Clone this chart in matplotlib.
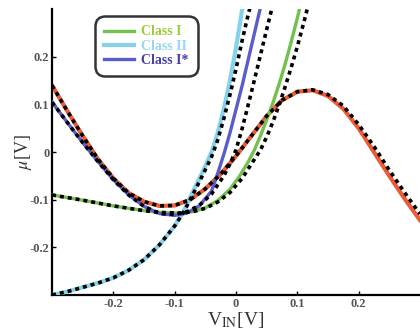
import numpy as np
import matplotlib.pyplot as plt

# curve data (V_IN [V], mu [V])
vin_red = [-0.300, -0.275, -0.250, -0.225, -0.200, -0.175, -0.150, -0.125, -0.100, -0.075, -0.050, -0.025,
           0.000, 0.025, 0.050, 0.075, 0.100, 0.125, 0.150, 0.175, 0.200, 0.225, 0.250, 0.275, 0.300]
mu_red = [0.140, 0.086, 0.034, -0.015, -0.055, -0.086, -0.104, -0.113, -0.112, -0.100, -0.077, -0.046,
          -0.008, 0.034, 0.076, 0.109, 0.127, 0.130, 0.118, 0.091, 0.050, 0.000, -0.050, -0.098, -0.143]
mu_red_fit = [0.140, 0.086, 0.034, -0.015, -0.055, -0.086, -0.104, -0.113, -0.112, -0.100, -0.077, -0.046,
              -0.008, 0.034, 0.076, 0.109, 0.127, 0.131, 0.121, 0.097, 0.058, 0.012, -0.038, -0.085, -0.130]

vin_blue = [-0.300, -0.275, -0.250, -0.225, -0.200, -0.175, -0.150, -0.125, -0.100, -0.080, -0.060,
            -0.040, -0.030, -0.020, -0.010, 0.000, 0.010, 0.020, 0.030, 0.040, 0.045]
mu_blue = [0.105, 0.062, 0.020, -0.020, -0.058, -0.090, -0.114, -0.129, -0.133, -0.128, -0.113,
           -0.082, -0.045, -0.005, 0.040, 0.090, 0.140, 0.195, 0.250, 0.305, 0.330]
vin_blue_fit = [-0.300, -0.275, -0.250, -0.225, -0.200, -0.175, -0.150, -0.125, -0.100, -0.080, -0.060,
                -0.040, -0.020, -0.010, 0.000, 0.010, 0.020, 0.030, 0.040, 0.050, 0.060, 0.065]
mu_blue_fit = [0.105, 0.062, 0.020, -0.020, -0.058, -0.090, -0.114, -0.129, -0.131, -0.125, -0.112,
               -0.088, -0.050, -0.025, 0.005, 0.050, 0.100, 0.152, 0.205, 0.258, 0.310, 0.335]

vin_cyan = [-0.300, -0.275, -0.250, -0.225, -0.200, -0.175, -0.150, -0.125, -0.100, -0.085, -0.070,
            -0.055, -0.040, -0.030, -0.020, -0.010, 0.000, 0.010, 0.015]
mu_cyan = [-0.300, -0.293, -0.284, -0.275, -0.264, -0.248, -0.226, -0.195, -0.155, -0.123, -0.082,
           -0.043, 0.000, 0.040, 0.090, 0.150, 0.220, 0.300, 0.340]
vin_cyan_fit = [-0.300, -0.275, -0.250, -0.225, -0.200, -0.175, -0.150, -0.125, -0.100, -0.085, -0.070,
                -0.055, -0.040, -0.030, -0.020, -0.010, 0.000, 0.010, 0.020, 0.028]
mu_cyan_fit = [-0.300, -0.293, -0.284, -0.275, -0.264, -0.248, -0.226, -0.195, -0.155, -0.125, -0.088,
               -0.050, -0.010, 0.025, 0.070, 0.120, 0.175, 0.235, 0.290, 0.330]

vin_green = [-0.300, -0.250, -0.200, -0.150, -0.120, -0.090, -0.070, -0.050, -0.030, -0.010, 0.005,
             0.020, 0.030, 0.040, 0.050, 0.060, 0.070, 0.080, 0.090, 0.100, 0.106]
mu_green = [-0.090, -0.101, -0.113, -0.123, -0.127, -0.128, -0.125, -0.117, -0.102, -0.078, -0.052,
            -0.020, 0.005, 0.035, 0.068, 0.103, 0.142, 0.185, 0.232, 0.282, 0.315]
vin_green_fit = [-0.300, -0.250, -0.200, -0.150, -0.120, -0.090, -0.070, -0.050, -0.030, -0.010, 0.010,
                 0.025, 0.040, 0.050, 0.060, 0.070, 0.080, 0.090, 0.100, 0.110, 0.120]
mu_green_fit = [-0.090, -0.101, -0.113, -0.123, -0.127, -0.128, -0.125, -0.118, -0.105, -0.085, -0.055,
                -0.025, 0.005, 0.032, 0.063, 0.098, 0.137, 0.178, 0.222, 0.270, 0.320]

labels = ['Class I', 'Class II', 'Class I*']
c_red, c_green, c_cyan, c_blue = '#ee5a33', '#74c04e', '#86d2ea', '#5b5ccb'
txt_cols = ['#9ccc3a', '#9ad8ee', '#4a3fa8']

plt.rcParams['font.family'] = ['Liberation Serif', 'DejaVu Serif']
plt.rcParams['mathtext.fontset'] = 'stix'

fig = plt.figure(figsize=(4.2, 3.34), dpi=100)
ax = fig.add_axes([0.124, 0.117, 0.876, 0.855])

lw = 2.4
dash = dict(color='k', lw=2.6, ls=(0, (1.1, 1.1)), zorder=5)
ax.plot(vin_red, mu_red, color=c_red, lw=lw + 0.6, zorder=2)
l1, = ax.plot(vin_green, mu_green, color=c_green, lw=lw, zorder=3)
l2, = ax.plot(vin_cyan, mu_cyan, color=c_cyan, lw=lw + 0.6, zorder=3)
l3, = ax.plot(vin_blue, mu_blue, color=c_blue, lw=lw, zorder=3)
ax.plot(vin_red, mu_red_fit, **dash)
ax.plot(vin_green_fit, mu_green_fit, **dash)
ax.plot(vin_cyan_fit, mu_cyan_fit, **dash)
ax.plot(vin_blue_fit, mu_blue_fit, **dash)

ax.set_xlim(-0.3, 0.3)
ax.set_ylim(-0.3, 0.3)
ax.set_xticks([-0.2, -0.1, 0, 0.1, 0.2])
ax.set_xticklabels(['-0.2', '-0.1', '0', '0.1', '0.2'])
ax.set_yticks([-0.2, -0.1, 0, 0.1, 0.2])
ax.set_yticklabels(['-0.2', '-0.1', '0', '0.1', '0.2'])
ax.tick_params(direction='in', length=3, width=1, labelsize=9, labelcolor='#555555', pad=2)
for lab in ax.get_xticklabels() + ax.get_yticklabels():
    lab.set_fontweight('bold')
for s in ['top', 'right']:
    ax.spines[s].set_visible(False)
for s in ['left', 'bottom']:
    ax.spines[s].set_linewidth(1.6)

ax.set_xlabel(r'V$_{\rm IN}$[V]', fontsize=14, labelpad=0, color='#333333')
ax.set_ylabel(r'$\mu$[V]', fontsize=13, color='#333333')
ax.yaxis.set_label_coords(-0.05, 0.5)

leg = ax.legend([l1, l2, l3], labels, loc='upper left', bbox_to_anchor=(0.105, 0.99),
                fancybox=True, frameon=True, handlelength=2.2, handletextpad=0.5,
                borderpad=0.45, labelspacing=0.1, prop=dict(size=10, weight='bold'))
leg.get_frame().set_edgecolor('k')
leg.get_frame().set_linewidth(1.8)
leg.get_frame().set_boxstyle('round,pad=0.2,rounding_size=0.7')
for t, c in zip(leg.get_texts(), txt_cols):
    t.set_color(c)

fig.savefig('out.png', dpi=100)
